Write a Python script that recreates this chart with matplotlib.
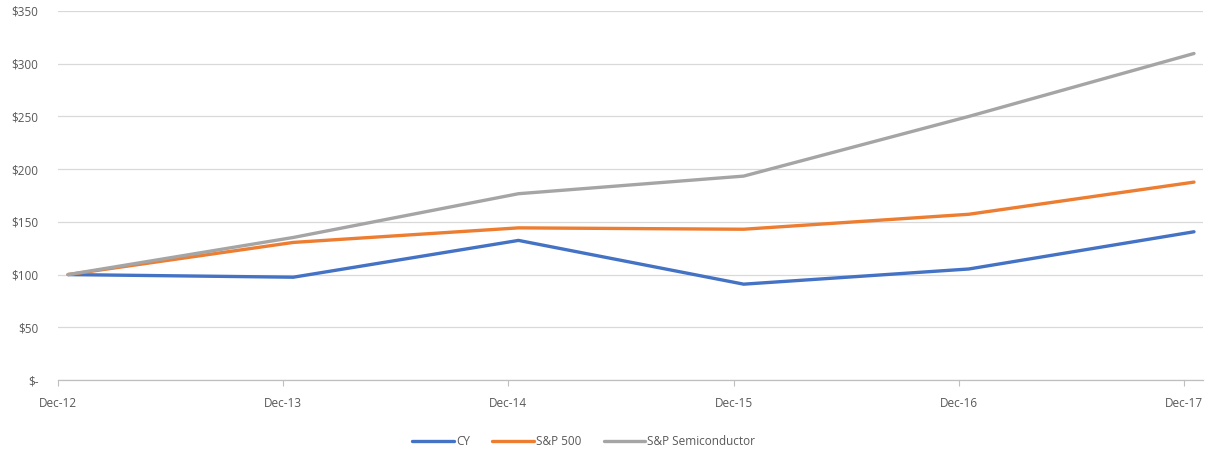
# Cumulative total return chart: CY vs S&P 500 vs S&P Semiconductor
import matplotlib.pyplot as plt

years = ["Dec-12", "Dec-13", "Dec-14", "Dec-15", "Dec-16", "Dec-17"]
cy = [100, 97.5, 132.4, 90.9, 105.3, 140.6]
sp500 = [100, 130.5, 144.3, 143.0, 157.2, 187.7]
semis = [100, 135.2, 176.7, 193.4, 250.0, 309.7]

y_ticks = [0, 50, 100, 150, 200, 250, 300, 350]
y_labels = ["$-", "$50", "$100", "$150", "$200", "$250", "$300", "$350"]

plt.rcParams["font.family"] = ["Open Sans", "DejaVu Sans"]

fig = plt.figure(figsize=(12.19, 4.51), dpi=100)
ax = fig.add_axes([58 / 1219, 1 - 380 / 451, (1203 - 58) / 1219, (380 - 11) / 451])

# data points sit a little right of the tick marks (date axis in the original)
offset = 0.045
xs = [i + offset for i in range(len(years))]

ax.plot(xs, cy, color="#4472C4", lw=2.4, label="CY", solid_capstyle="round")
ax.plot(xs, sp500, color="#ED7D31", lw=2.4, label="S&P 500", solid_capstyle="round")
ax.plot(xs, semis, color="#A5A5A5", lw=2.4, label="S&P Semiconductor", solid_capstyle="round")

ax.set_xlim(0, 5.085)
ax.set_ylim(0, 350)
ax.set_yticks(y_ticks)
ax.set_yticklabels(y_labels)
ax.set_xticks(range(len(years)))
ax.set_xticklabels(years)

ax.grid(axis="y", color="#d9d9d9", lw=0.9)
ax.set_axisbelow(True)
for s in ["top", "right", "left"]:
    ax.spines[s].set_visible(False)
ax.spines["bottom"].set_color("#bfbfbf")
ax.spines["bottom"].set_linewidth(0.9)

ax.tick_params(axis="y", length=0, pad=14, labelsize=8.5, labelcolor="#595959")
ax.tick_params(axis="x", length=4, color="#bfbfbf", pad=8, labelsize=8.5,
               labelcolor="#595959")

fig.legend(loc="lower center", bbox_to_anchor=(0.479, -0.018), ncol=3, frameon=False,
           fontsize=8.5, handlelength=3.5, handletextpad=0.2, columnspacing=1.9,
           labelcolor="#595959")

fig.savefig("out.png", dpi=100)
